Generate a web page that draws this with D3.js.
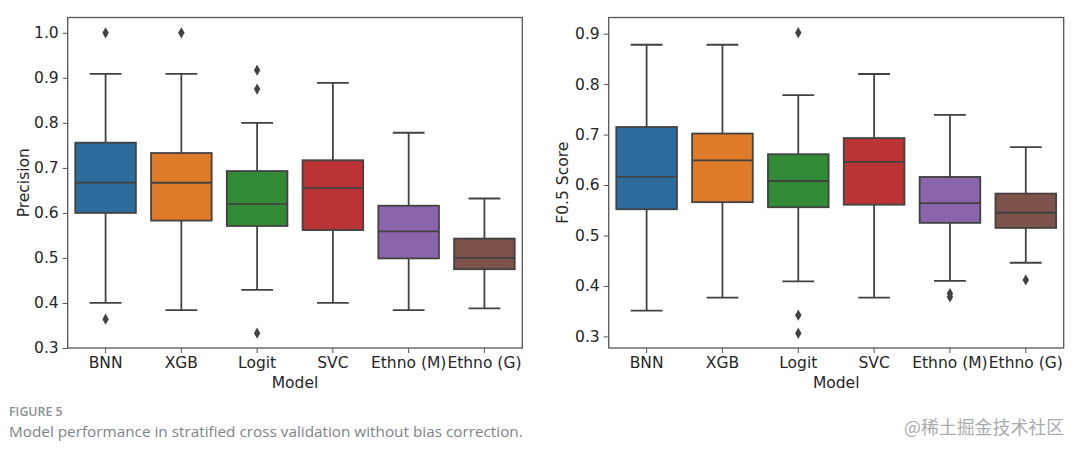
<!DOCTYPE html>
<html>
<head>
<meta charset="utf-8">
<script src="https://cdn.jsdelivr.net/npm/d3@7"></script>
<style>
  html, body { margin: 0; padding: 0; background: #fff; }
  text { font-family: "DejaVu Sans", sans-serif; fill: #262626; }
</style>
</head>
<body>
<div id="chart"></div>
<script>
var categories = ['BNN', 'XGB', 'Logit', 'SVC', 'Ethno (M)', 'Ethno (G)'];
var colors = ['#2c6c9c', '#df7b28', '#318a34', '#ba3335', '#8a65ab', '#7d524b'];

// one entry per model
var precLow = [0.400, 0.384, 0.429, 0.400, 0.384, 0.388];
var precQ1 = [0.600, 0.583, 0.571, 0.562, 0.499, 0.475];
var precMed = [0.667, 0.667, 0.620, 0.655, 0.559, 0.500];
var precQ3 = [0.756, 0.733, 0.693, 0.717, 0.616, 0.543];
var precHigh = [0.909, 0.909, 0.800, 0.889, 0.778, 0.632];
var precFliers = [[1.0, 0.364], [1.0], [0.917, 0.875, 0.333], [], [], []];
var precTicks = [0.3, 0.4, 0.5, 0.6, 0.7, 0.8, 0.9, 1.0];
var precDomain = [0.3, 1.034];

var f05Low = [0.351, 0.377, 0.409, 0.377, 0.410, 0.446];
var f05Q1 = [0.552, 0.566, 0.556, 0.561, 0.525, 0.515];
var f05Med = [0.616, 0.649, 0.608, 0.646, 0.564, 0.545];
var f05Q3 = [0.715, 0.702, 0.661, 0.693, 0.616, 0.583];
var f05High = [0.878, 0.878, 0.778, 0.820, 0.739, 0.675];
var f05Fliers = [[], [], [0.902, 0.342, 0.306], [], [0.385, 0.378], [0.412]];
var f05Ticks = [0.3, 0.4, 0.5, 0.6, 0.7, 0.8, 0.9];
var f05Domain = [0.277, 0.932];

var width = 1080, height = 453;
var top_ = 17.5, bottom_ = 348;
var lineColor = '#424242';
var lineW = 1.8;

var svg = d3.select('#chart').append('svg')
  .attr('width', width)
  .attr('height', height)
  .style('display', 'block');

function boxPanel(left, right, yTitle, titleX, low, q1, med, q3, high, fliers, ticks, domain) {
  var x = d3.scaleBand().domain(categories).range([left, right]).paddingInner(0.2).paddingOuter(0.1);
  var y = d3.scaleLinear().domain(domain).range([bottom_, top_]);
  var cx = function(i) { return x(categories[i]) + x.bandwidth() / 2; };
  var capW = x.step() * 0.21;

  var g = svg.append('g');

  var rows = categories.map(function(c, i) { return i; });

  // whiskers first so the boxes cover them
  g.selectAll('.whisker').data(rows).enter().append('line')
    .attr('class', 'whisker')
    .attr('x1', cx).attr('x2', cx)
    .attr('y1', function(i) { return y(low[i]); })
    .attr('y2', function(i) { return y(high[i]); })
    .attr('stroke', lineColor).attr('stroke-width', lineW);

  [low, high].forEach(function(arr) {
    g.selectAll(null).data(rows).enter().append('line')
      .attr('x1', function(i) { return cx(i) - capW; })
      .attr('x2', function(i) { return cx(i) + capW; })
      .attr('y1', function(i) { return y(arr[i]); })
      .attr('y2', function(i) { return y(arr[i]); })
      .attr('stroke', lineColor).attr('stroke-width', lineW);
  });

  g.selectAll('.box').data(rows).enter().append('rect')
    .attr('class', 'box')
    .attr('x', function(i) { return x(categories[i]); })
    .attr('width', x.bandwidth())
    .attr('y', function(i) { return y(q3[i]); })
    .attr('height', function(i) { return y(q1[i]) - y(q3[i]); })
    .attr('fill', function(i) { return colors[i]; })
    .attr('stroke', lineColor).attr('stroke-width', lineW);

  g.selectAll('.median').data(rows).enter().append('line')
    .attr('class', 'median')
    .attr('x1', function(i) { return x(categories[i]); })
    .attr('x2', function(i) { return x(categories[i]) + x.bandwidth(); })
    .attr('y1', function(i) { return y(med[i]); })
    .attr('y2', function(i) { return y(med[i]); })
    .attr('stroke', lineColor).attr('stroke-width', lineW);

  var flierData = [];
  fliers.forEach(function(list, i) {
    list.forEach(function(v) { flierData.push({ i: i, v: v }); });
  });
  g.selectAll('.flier').data(flierData).enter().append('path')
    .attr('class', 'flier')
    .attr('d', d3.symbol().type(d3.symbolDiamond).size(36))
    .attr('transform', function(d) { return 'translate(' + cx(d.i) + ',' + y(d.v) + ')'; })
    .attr('fill', lineColor);

  // frame
  g.append('rect')
    .attr('x', left).attr('y', top_)
    .attr('width', right - left).attr('height', bottom_ - top_)
    .attr('fill', 'none')
    .attr('stroke', '#555').attr('stroke-width', 1.3);

  var yAxis = d3.axisLeft(y).tickValues(ticks).tickFormat(d3.format('.1f')).tickSize(5).tickPadding(4);
  var ya = g.append('g').attr('transform', 'translate(' + left + ',0)').call(yAxis);
  var xAxis = d3.axisBottom(x).tickSize(5).tickPadding(4);
  var xa = g.append('g').attr('transform', 'translate(0,' + bottom_ + ')').call(xAxis);
  [ya, xa].forEach(function(a) {
    a.select('.domain').remove();
    a.selectAll('line').attr('stroke', '#555');
    a.selectAll('text').style('font-size', '15.5px').style('font-family', '"DejaVu Sans", sans-serif').attr('fill', '#262626');
  });

  g.append('text')
    .attr('x', (left + right) / 2)
    .attr('y', 388)
    .attr('text-anchor', 'middle')
    .style('font-size', '15.5px')
    .text('Model');

  g.append('text')
    .attr('transform', 'translate(' + titleX + ',' + (bottom_ + top_) / 2 + ') rotate(-90)')
    .attr('text-anchor', 'middle')
    .style('font-size', '15.5px')
    .text(yTitle);
}

boxPanel(67.7, 522.3, 'Precision', 29, precLow, precQ1, precMed, precQ3, precHigh, precFliers, precTicks, precDomain);
boxPanel(608.7, 1063.7, 'F0.5 Score', 568, f05Low, f05Q1, f05Med, f05Q3, f05High, f05Fliers, f05Ticks, f05Domain);

// caption and watermark
svg.append('text').attr('x', 9).attr('y', 416)
  .style('font-family', '"Open Sans", sans-serif').style('font-size', '12.4px').style('font-weight', 600)
  .style('fill', '#8a8f94')
  .text('FIGURE 5');
svg.append('text').attr('x', 9).attr('y', 437)
  .style('font-family', '"Open Sans", sans-serif').style('font-size', '15.3px')
  .style('fill', '#7d8388')
  .text('Model performance in stratified cross validation without bias correction.');
svg.append('text').attr('x', 904).attr('y', 434)
  .style('font-family', '"Noto Sans CJK SC", sans-serif').style('font-size', '17.9px')
  .style('fill', '#a9abad')
  .text('@稀土掘金技术社区');
</script>
</body>
</html>
